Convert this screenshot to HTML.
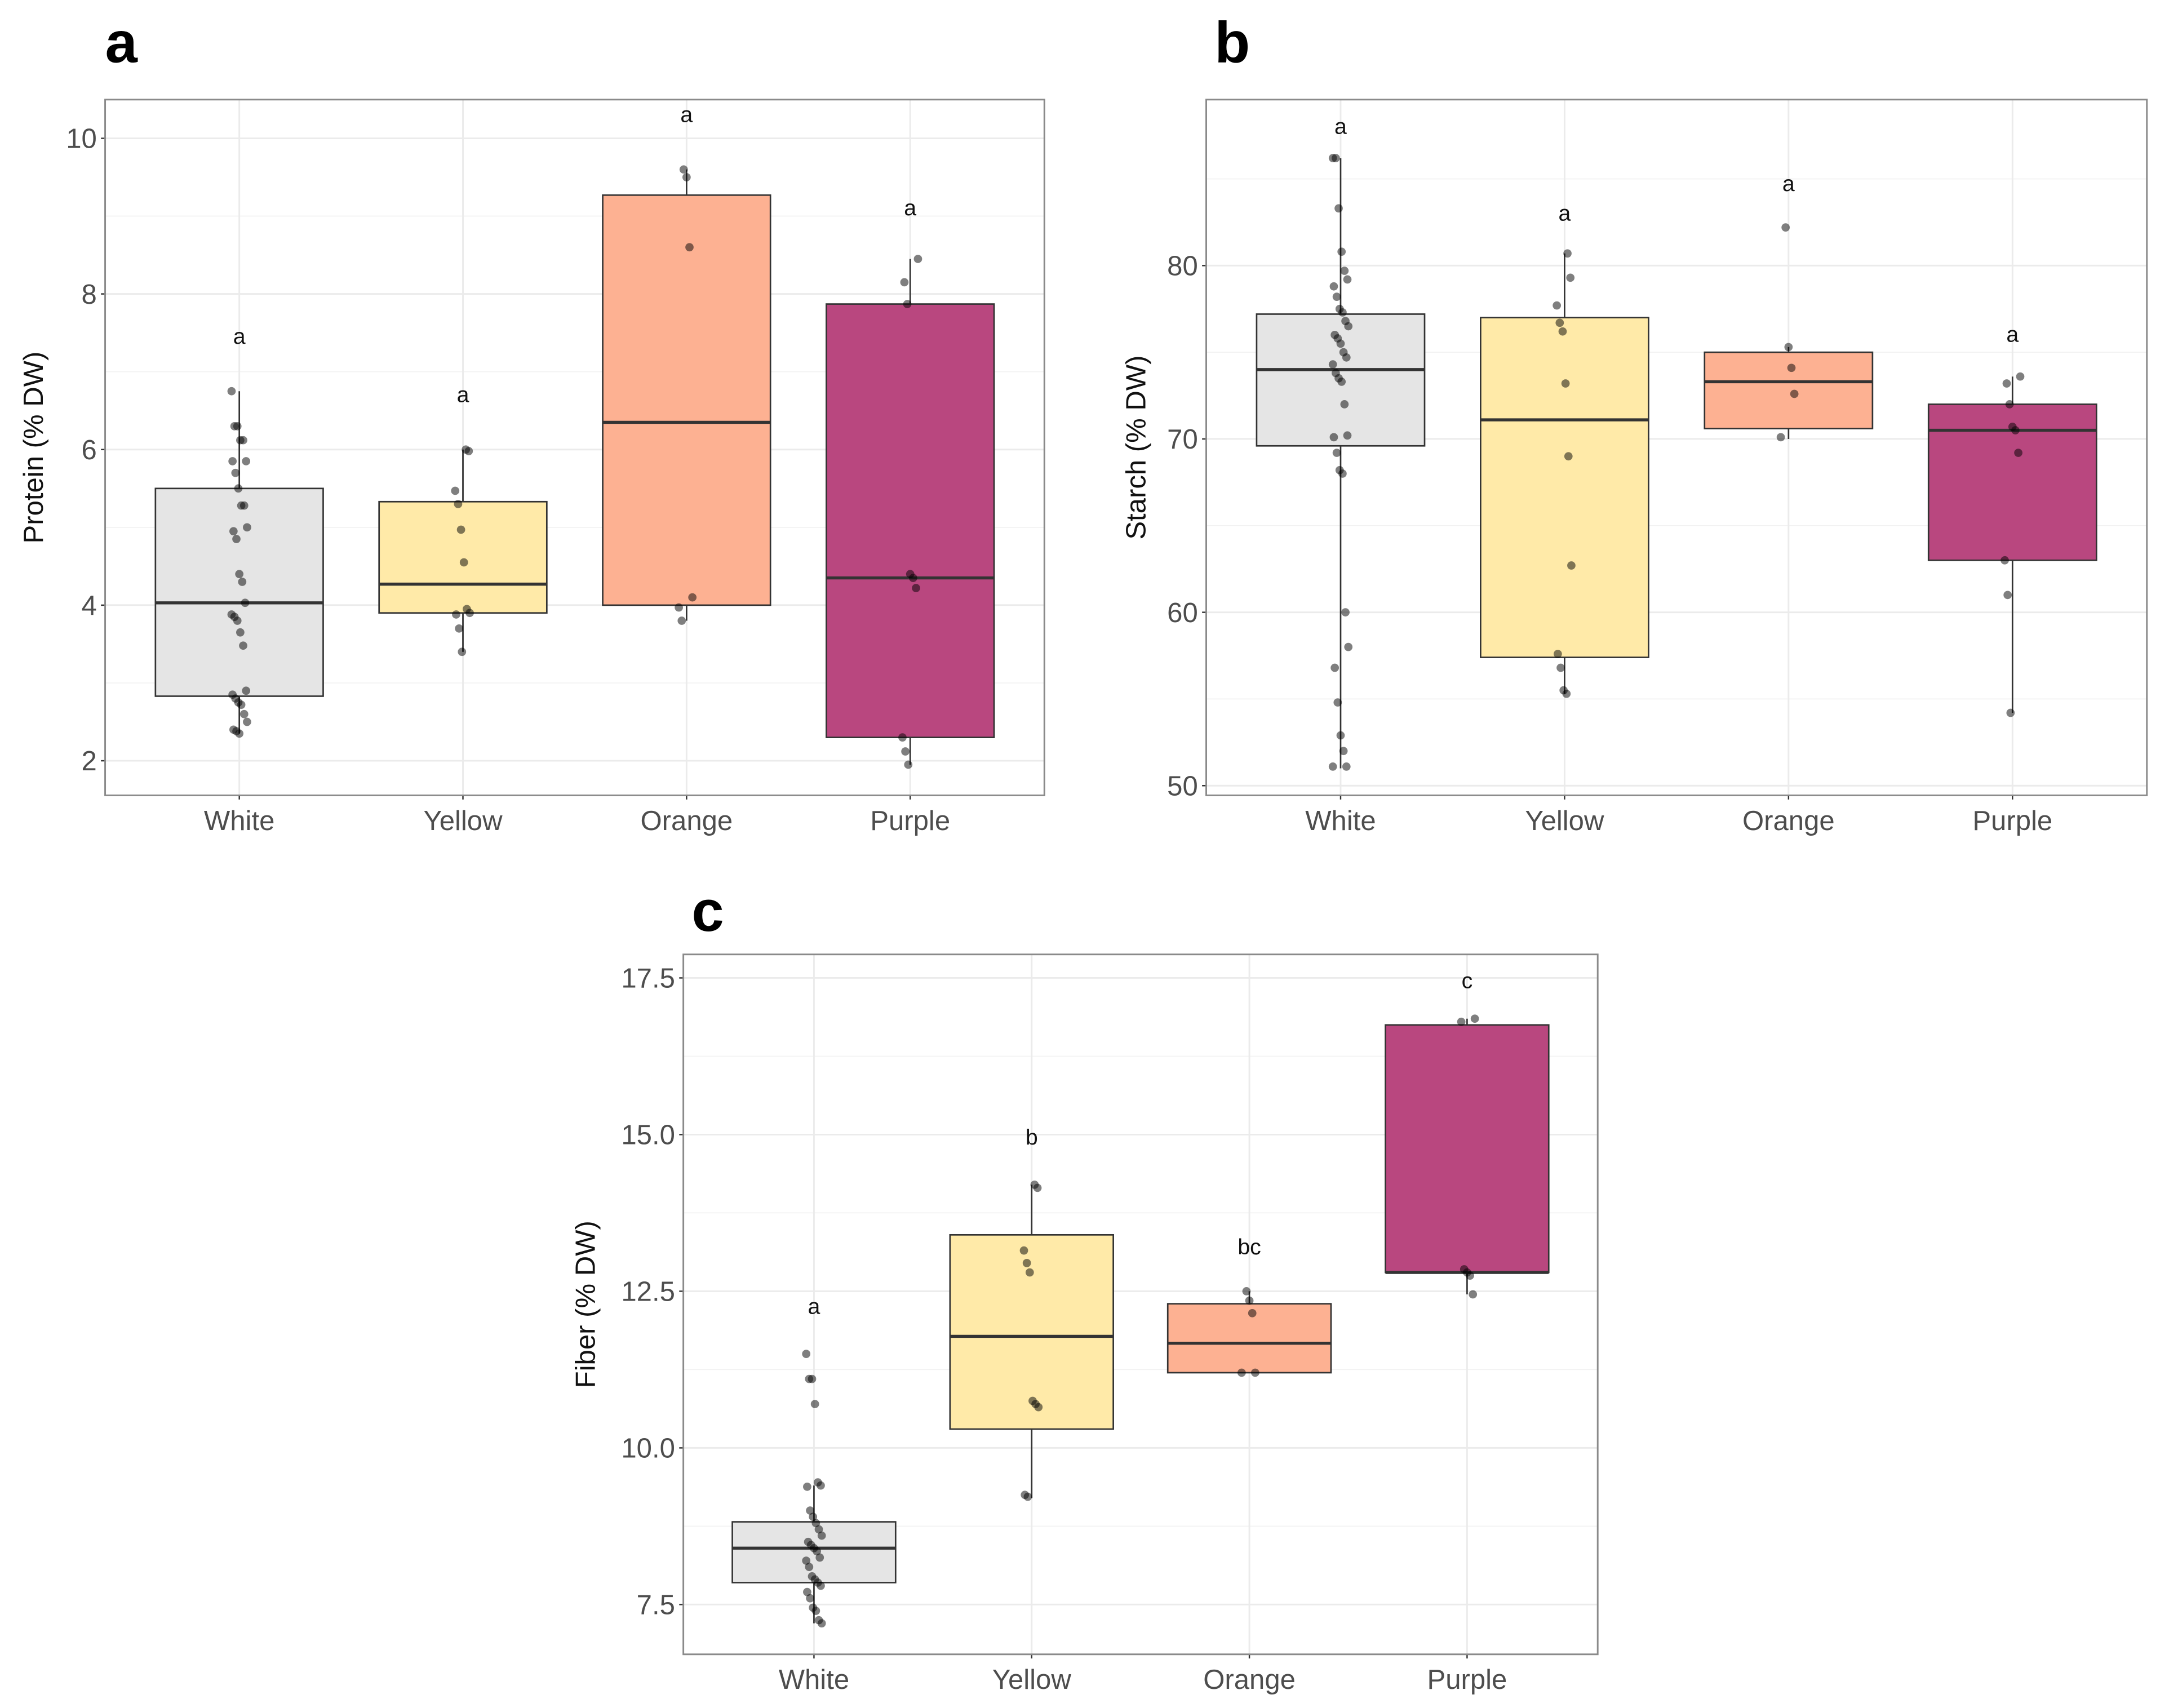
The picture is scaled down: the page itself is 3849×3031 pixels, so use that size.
<!DOCTYPE html>
<html><head><meta charset="utf-8"><style>
html,body{margin:0;padding:0;background:#fff}
svg{display:block}
text{font-family:"Liberation Sans",sans-serif}
</style></head><body>
<svg id="fig" width="3849" height="3031" viewBox="0 0 1568 1234.8" preserveAspectRatio="none" xmlns="http://www.w3.org/2000/svg"></svg>
<script>
const categories = ["White","Yellow","Orange","Purple"];
const fills = ["#e5e5e5","#ffeaa8","#fdb192","#b9477f"];
// Panel a: Protein
const proteinBoxes = [[2.35,2.83,4.03,5.5,6.75],[3.4,3.9,4.27,5.33,6.0],[3.8,4.0,6.35,9.27,9.6],[1.95,2.3,4.35,7.87,8.45]];
const proteinLetters = ["a","a","a","a"];
const proteinLetterY = [7.45,6.7,10.3,9.1];
const proteinTicks = [2,4,6,8,10];
const proteinPoints = [
 [6.75,6.3,6.3,6.12,6.12,5.85,5.85,5.7,5.5,5.28,5.28,5.0,4.95,4.85,4.4,4.3,4.03,3.88,3.85,3.8,3.65,3.48,2.9,2.85,2.8,2.75,2.72,2.6,2.5,2.4,2.38,2.35],
 [6.0,5.98,5.47,5.3,4.97,4.55,3.95,3.9,3.88,3.7,3.4],
 [9.6,9.5,8.6,4.1,3.97,3.8],
 [8.45,8.15,7.87,4.4,4.35,4.22,2.3,2.12,1.95]];
// Panel b: Starch
const starchBoxes = [[51,69.6,74,77.2,86.2],[55.3,57.4,71.1,77,80.7],[70,70.6,73.3,75,75.3],[54.2,63,70.5,72,73.6]];
const starchLetters = ["a","a","a","a"];
const starchLetterY = [88,83,84.7,76];
const starchTicks = [50,60,70,80];
const starchPoints = [
 [86.2,86.2,83.3,80.8,79.7,79.2,78.8,78.2,77.5,77.3,76.8,76.5,76.0,75.8,75.5,75,74.7,74.3,73.8,73.5,73.3,72,70.2,70.1,69.2,68.2,68.0,60,58,56.8,54.8,52.9,52,51.1,51.1],
 [80.7,79.3,77.7,76.7,76.2,73.2,69,62.7,57.6,56.8,55.5,55.3],
 [82.2,75.3,74.1,72.6,70.1],
 [73.6,73.2,72,70.7,70.5,69.2,63,61,54.2]];
// Panel c: Fiber
const fiberBoxes = [[7.2,7.85,8.4,8.82,9.4],[9.2,10.3,11.78,13.4,14.2],[11.2,11.2,11.67,12.3,12.5],[12.45,12.8,12.8,16.75,16.85]];
const fiberLetters = ["a","b","bc","c"];
const fiberLetterY = [12.25,14.95,13.2,17.45];
const fiberTicks = [7.5,10.0,12.5,15.0,17.5];
const fiberPoints = [
 [11.5,11.1,11.1,10.7,9.45,9.4,9.38,9.0,8.9,8.8,8.7,8.6,8.5,8.45,8.4,8.35,8.25,8.2,8.1,7.95,7.9,7.85,7.8,7.7,7.6,7.45,7.4,7.25,7.2],
 [14.2,14.15,13.15,12.95,12.8,10.75,10.7,10.65,9.25,9.22],
 [12.5,12.35,12.15,11.2,11.2],
 [16.85,16.8,12.85,12.8,12.75,12.45]];

const NS="http://www.w3.org/2000/svg";
const svg=document.getElementById('fig');
function mk(tag,attrs,parent){const e=document.createElementNS(NS,tag);for(const k in attrs)e.setAttribute(k,attrs[k]);(parent||svg).appendChild(e);return e;}

function panel(cfg){
  const g=mk('g',{});
  
  
  const {x0,x1,y0,y1}=cfg;
  const yS=v=>cfg.py1+(v-cfg.v1)*(cfg.py2-cfg.py1)/(cfg.v2-cfg.v1);
  const step=(x1-x0)/4.2;
  const xS=i=>x0+step*(0.6+i);
  const bg=mk('rect',{x:x0,y:y0,width:x1-x0,height:y1-y0,fill:'#fff'},g);
  
  
  for(let k=0;k<cfg.ticks.length-1;k++){
    const m=(cfg.ticks[k]+cfg.ticks[k+1])/2;
    mk('line',{x1:x0,x2:x1,y1:yS(m),y2:yS(m),stroke:'#f2f2f2','stroke-width':0.7},g);
  }
  const tb=cfg.ticks[1]-cfg.ticks[0];
  [cfg.ticks[0]-tb/2, cfg.ticks[cfg.ticks.length-1]+tb/2].forEach(m=>{const yy=yS(m); if(yy>y0&&yy<y1) mk('line',{x1:x0,x2:x1,y1:yy,y2:yy,stroke:'#f2f2f2','stroke-width':0.7},g);});
  cfg.ticks.forEach(t=>{
    mk('line',{x1:x0,x2:x1,y1:yS(t),y2:yS(t),stroke:'#ebebeb','stroke-width':1.2},g);
    const tl=mk('text',{x:x0-6,y:yS(t)+7,'text-anchor':'end','font-size':20,fill:'#4d4d4d'},g);
    tl.textContent=cfg.fmt(t);
    
    
    mk('line',{x1:x0-3,x2:x0,y1:yS(t),y2:yS(t),stroke:'#333','stroke-width':1},g);
  });
  categories.forEach((c,i)=>{
    mk('line',{x1:xS(i),x2:xS(i),y1:y0,y2:y1,stroke:'#ebebeb','stroke-width':1.2},g);
    mk('line',{x1:xS(i),x2:xS(i),y1:y1,y2:y1+3,stroke:'#333','stroke-width':1},g);
    const xl=mk('text',{x:xS(i),y:y1+25,'text-anchor':'middle','font-size':20,fill:'#4d4d4d'},g);
    xl.textContent=c;
    
    
  });
  const bw=step*0.75;
  cfg.boxes.forEach((b,i)=>{
    const cx=xS(i);
    mk('line',{x1:cx,x2:cx,y1:yS(b[0]),y2:yS(b[4]),stroke:'#333','stroke-width':1.1},g);
    const r=mk('rect',{x:cx-bw/2,y:yS(b[3]),width:bw,height:yS(b[1])-yS(b[3]),fill:fills[i],stroke:'#333','stroke-width':1.1},g);
    
    
    mk('line',{x1:cx-bw/2,x2:cx+bw/2,y1:yS(b[2]),y2:yS(b[2]),stroke:'#333','stroke-width':2.2},g);
    const lt=mk('text',{x:cx,y:yS(cfg.letterY[i])+5,'text-anchor':'middle','font-size':16,fill:'#111'},g);
    lt.textContent=cfg.letters[i];
    
    
  });
  cfg.points.forEach((arr,i)=>{
    arr.forEach((v,j)=>{
      const jit=((j*37+i*11)%17-8)*0.7;
      const p=mk('circle',{cx:xS(i)+jit,cy:yS(v),r:3,fill:'rgba(0,0,0,0.5)'},g);
      
      
    });
  });
  mk('rect',{x:x0,y:y0,width:x1-x0,height:y1-y0,fill:'none',stroke:'#8a8a8a','stroke-width':1.2},g);
  const yt=mk('text',{x:0,y:0,'text-anchor':'middle','font-size':20,fill:'#111',transform:`translate(${cfg.titleX},${(y0+y1)/2}) rotate(-90)`},g);
  yt.textContent=cfg.title;
  
  
  const pl=mk('text',{x:cfg.labX,y:cfg.labY,'font-size':42,'font-weight':'600',fill:'#000'},g);
  pl.textContent=cfg.label;
  
  
}
panel({name:'panel-a-protein',x0:76,x1:755,y0:72,y1:575,py1:550,v1:2,py2:100,v2:10,ticks:proteinTicks,fmt:t=>String(t),boxes:proteinBoxes,points:proteinPoints,letters:proteinLetters,letterY:proteinLetterY,title:'Protein (% DW)',titleX:31,label:'a',labX:76,labY:45});
panel({name:'panel-b-starch',x0:872,x1:1552,y0:72,y1:575,py1:568,v1:50,py2:192,v2:80,ticks:starchTicks,fmt:t=>String(t),boxes:starchBoxes,points:starchPoints,letters:starchLetters,letterY:starchLetterY,title:'Starch (% DW)',titleX:828,label:'b',labX:878,labY:45});
panel({name:'panel-c-fiber',x0:494,x1:1155,y0:690,y1:1196,py1:1160,v1:7.5,py2:707,v2:17.5,ticks:fiberTicks,fmt:t=>t.toFixed(1),boxes:fiberBoxes,points:fiberPoints,letters:fiberLetters,letterY:fiberLetterY,title:'Fiber (% DW)',titleX:430,label:'c',labX:500,labY:673});
</script>
</body></html>
